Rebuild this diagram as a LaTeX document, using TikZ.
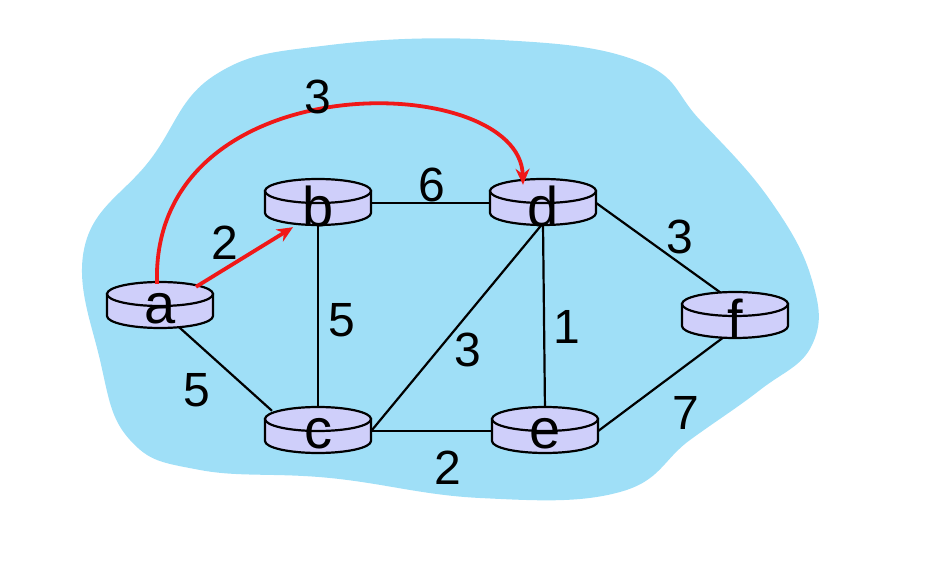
\documentclass[tikz,border=0pt]{standalone}
\usepackage{fontspec}
\setmainfont{Liberation Sans}
\usetikzlibrary{backgrounds,arrows.meta}
\definecolor{cloud}{HTML}{9FDFF7}
\definecolor{rt}{HTML}{CFCFFA}
\definecolor{arr}{HTML}{F01818}
\tikzset{
  rbox/.style={rectangle,minimum width=106pt,minimum height=40pt,inner sep=0pt},
  wlab/.style={font=\fontsize{48}{48}\selectfont},
  link/.style={line width=2.2pt},
  rlink/.style={line width=3.8pt,arr,-{Stealth[length=16pt,width=14pt]}}
}
\newcommand{\router}[4]{%
  \fill[rt,draw=black,line width=2.2pt] (#2-53,#3-12) -- (#2-53,#3+10) arc[start angle=180,end angle=0,x radius=53,y radius=12] -- (#2+53,#3-12) -- cycle;
  \draw[fill=rt,line width=2.2pt] (#2,#3-12) ellipse[x radius=53,y radius=12];
  \node[rbox] (#1) at (#2,#3) {};
  \node[font=\fontsize{56}{56}\selectfont] (#1l) at (#2,#3+3) {#4};
}
\begin{document}
\begin{tikzpicture}[x=1pt,y=-1pt]
\useasboundingbox (0,0) rectangle (927,572);
\router{a}{160}{306}{a}
\router{b}{318}{203}{b}
\router{c}{318}{431}{c}
\router{d}{543}{203}{d}
\router{e}{545}{431}{e}
\router{f}{735}{316}{f}
\begin{scope}[on background layer]
\fill[cloud] plot[smooth cycle,tension=0.7] coordinates {(85,245) (150,160) (215,75) (330,45) (500,40) (640,62) (700,120) (770,200) (812,280) (812,345) (760,390) (690,440) (620,492) (480,498) (330,478) (200,470) (130,440) (100,360)};
\draw[link] (b.east) -- (d.west);
\draw[link] (b.south) -- (c.north);
\draw[link] ([xshift=18pt]a.south) -- ([xshift=-46pt]c.north);
\draw[link] (c.east) -- (d.south);
\draw[link] (d.south) -- (e.north);
\draw[link] (c.east) -- (e.west);
\draw[link] (d.east) -- ([xshift=-10pt]f.north);
\draw[link] (e.east) -- ([xshift=-10pt]f.south);
\end{scope}
\draw[rlink] ([xshift=36pt,yshift=-1pt]a.north) -- ([xshift=-25pt,yshift=-4pt]b.south);
\draw[rlink] ([xshift=-3pt,yshift=2pt]a.north) .. controls (150,60) and (520,70) .. ([xshift=-20pt,yshift=-2pt]d.north);
\node[wlab] at (318,97) {3};
\node[wlab] at (225,243) {2};
\node[wlab] at (432,185) {6};
\node[wlab] at (680,237) {3};
\node[wlab] at (342,320) {5};
\node[wlab] at (468,350) {3};
\node[wlab] at (567,327) {1};
\node[wlab] at (197,390) {5};
\node[wlab] at (448,468) {2};
\node[wlab] at (686,413) {7};
\end{tikzpicture}
\end{document}
